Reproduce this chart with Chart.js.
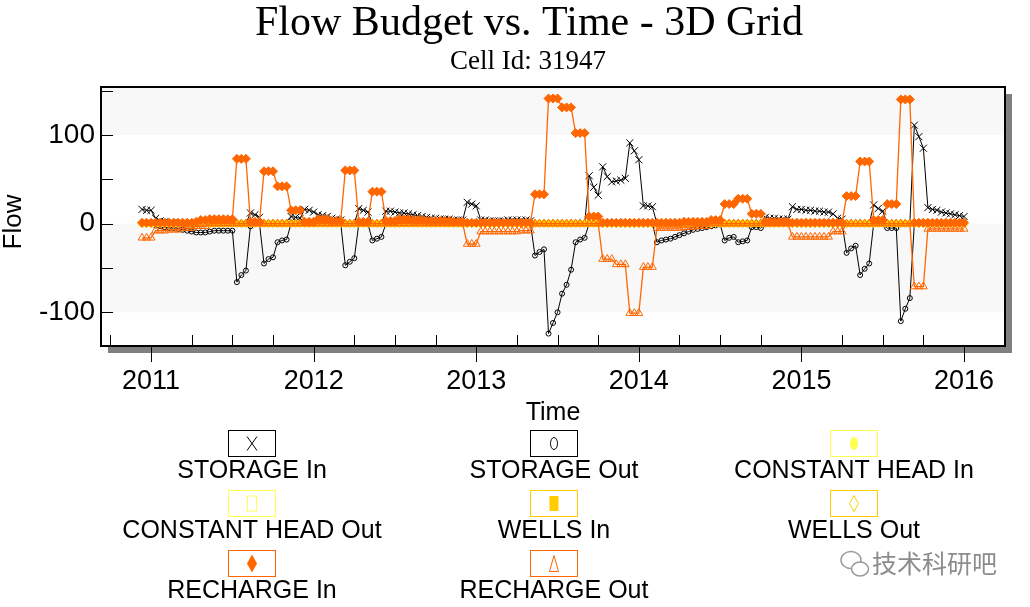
<!DOCTYPE html>
<html>
<head>
<meta charset="utf-8">
<title>Flow Budget vs. Time - 3D Grid</title>
<script src="https://cdn.jsdelivr.net/npm/chart.js@4.4.1/dist/chart.umd.min.js"></script>
<style>
  html, body { margin: 0; padding: 0; background: #fff; }
  #wrap { width: 1030px; height: 607px; }
</style>
</head>
<body>
<div id="wrap"><canvas id="chart" width="1030" height="607"></canvas></div>
<script>
// time steps: 3 per monthly stress period, Dec 2010 .. Dec 2015
var firstYear = 2010, firstMonth = 11, monthCount = 61, stepsPerMonth = 3;

// one line = Dec 2010, then one line per year (36 steps)
var storageIn = [
  16, 15, 15,
  6, 3, 2, 1, 1, 1, 0, 0, 0, 0, 0, 0, 0, 0, 0, 0, 0, 0, 0, 0, 0, 12, 10, 7, 0, 0, 0, 0, 0, 0, 8, 7, 6, 16, 15, 13,
  10, 9, 8, 6, 5, 4, 0, 0, 0, 17, 15, 13, 0, 0, 0, 14, 14, 13, 12, 12, 11, 10, 9, 8, 7, 6, 6, 5, 5, 5, 4, 4, 4, 24, 22, 20,
  4, 4, 3, 3, 3, 3, 4, 4, 4, 4, 4, 3, 0, 0, 0, 0, 0, 0, 0, 0, 0, 0, 0, 0, 54, 41, 32, 64, 53, 47, 48, 49, 51, 91, 82, 72,
  20, 20, 19, 0, 0, 0, 0, 0, 0, 0, 0, 0, 0, 0, 0, 0, 0, 0, 0, 0, 0, 0, 0, 0, 0, 0, 0, 7, 6, 6, 5, 5, 5, 19, 16, 16,
  15, 15, 14, 14, 13, 13, 11, 6, 5, 0, 0, 0, 0, 0, 0, 21, 17, 14, 0, 0, 0, 0, 0, 0, 111, 98, 85, 18, 16, 15, 13, 12, 11, 10, 9, 8
];
var storageOut = [
  0, 0, 0,
  -2, -3, -4, -5, -5, -6, -7, -8, -9, -10, -10, -10, -9, -8, -8, -8, -8, -8, -66, -58, -53, -3, 0, 0, -45, -40, -38, -21, -19, -18, 0, 0, 0, 0, 0, 0,
  0, 0, 0, 0, 0, 0, -47, -43, -39, 0, 0, 0, -19, -17, -15, 0, 0, 0, 0, 0, 0, 0, 0, 0, 0, 0, 0, 0, 0, 0, 0, 0, 0, 0, 0, 0,
  0, 0, 0, 0, 0, 0, 0, 0, 0, 0, 0, 0, -36, -32, -29, -124, -112, -100, -79, -69, -52, -21, -18, -16, 0, 0, 0, 0, 0, 0, 0, 0, 0, 0, 0, 0,
  0, 0, 0, -21, -19, -18, -17, -15, -13, -11, -9, -7, -6, -5, -4, -3, -2, -1, -19, -16, -15, -21, -20, -19, -4, -4, -5, 0, 0, 0, 0, 0, 0, 0, 0, 0,
  0, 0, 0, 0, 0, 0, 0, 0, 0, -33, -28, -25, -58, -51, -45, 0, 0, 0, -5, -5, -5, -110, -96, -84, 0, 0, 0, 0, 0, 0, 0, 0, 0, 0, 0, 0
];
var rechargeIn = [
  1, 1, 1,
  1, 1, 1, 1, 1, 1, 1, 1, 1, 2, 4, 4, 5, 5, 5, 5, 5, 5, 73, 73, 73, 2, 2, 2, 59, 59, 59, 42, 42, 42, 15, 15, 15, 2, 2, 2,
  5, 5, 5, 3, 3, 3, 60, 60, 60, 2, 2, 2, 36, 36, 36, 3, 3, 3, 5, 5, 5, 4, 4, 4, 3, 3, 3, 3, 3, 3, 2, 2, 2, 1, 1, 1,
  1, 1, 1, 1, 1, 1, 1, 1, 1, 1, 1, 1, 33, 33, 33, 141, 141, 141, 131, 131, 131, 102, 102, 102, 8, 8, 8, 1, 1, 1, 1, 1, 1, 1, 1, 1,
  1, 1, 1, 1, 1, 1, 1, 1, 1, 2, 2, 2, 2, 2, 2, 4, 4, 4, 22, 22, 22, 28, 28, 28, 11, 11, 11, 2, 2, 2, 2, 2, 2, 1, 1, 1,
  1, 1, 1, 1, 1, 1, 1, 1, 1, 31, 31, 31, 70, 70, 70, 4, 4, 4, 22, 22, 22, 140, 140, 140, 1, 1, 1, 1, 1, 1, 1, 1, 1, 1, 1, 1
];
var rechargeOut = [
  -16, -16, -16,
  -8, -8, -8, -7, -7, -7, -5, -5, -5, -3, -3, -3, 0, 0, 0, 0, 0, 0, 0, 0, 0, 0, 0, 0, 0, 0, 0, 0, 0, 0, 0, 0, 0, 0, 0, 0,
  0, 0, 0, 0, 0, 0, 0, 0, 0, 0, 0, 0, 0, 0, 0, 0, 0, 0, 0, 0, 0, 0, 0, 0, 0, 0, 0, 0, 0, 0, 0, 0, 0, -23, -23, -23,
  -9, -9, -9, -9, -9, -9, -9, -9, -9, -8, -8, -8, 0, 0, 0, 0, 0, 0, 0, 0, 0, 0, 0, 0, 0, 0, 0, -40, -40, -40, -46, -46, -46, -101, -101, -101,
  -49, -49, -49, -5, -5, -5, -5, -5, -5, -4, -4, -4, -3, -3, -3, 0, 0, 0, 0, 0, 0, 0, 0, 0, 0, 0, 0, 0, 0, 0, 0, 0, 0, -15, -15, -15,
  -15, -15, -15, -15, -15, -15, -9, -9, -9, 0, 0, 0, 0, 0, 0, 0, 0, 0, 0, 0, 0, 0, 0, 0, -71, -71, -71, -6, -6, -6, -6, -6, -6, -6, -6, -6
];
// constant head and wells stay at zero for this cell
var zeroFlow = [
  0, 0, 0,
  0, 0, 0, 0, 0, 0, 0, 0, 0, 0, 0, 0, 0, 0, 0, 0, 0, 0, 0, 0, 0, 0, 0, 0, 0, 0, 0, 0, 0, 0, 0, 0, 0, 0, 0, 0,
  0, 0, 0, 0, 0, 0, 0, 0, 0, 0, 0, 0, 0, 0, 0, 0, 0, 0, 0, 0, 0, 0, 0, 0, 0, 0, 0, 0, 0, 0, 0, 0, 0, 0, 0, 0,
  0, 0, 0, 0, 0, 0, 0, 0, 0, 0, 0, 0, 0, 0, 0, 0, 0, 0, 0, 0, 0, 0, 0, 0, 0, 0, 0, 0, 0, 0, 0, 0, 0, 0, 0, 0,
  0, 0, 0, 0, 0, 0, 0, 0, 0, 0, 0, 0, 0, 0, 0, 0, 0, 0, 0, 0, 0, 0, 0, 0, 0, 0, 0, 0, 0, 0, 0, 0, 0, 0, 0, 0,
  0, 0, 0, 0, 0, 0, 0, 0, 0, 0, 0, 0, 0, 0, 0, 0, 0, 0, 0, 0, 0, 0, 0, 0, 0, 0, 0, 0, 0, 0, 0, 0, 0, 0, 0, 0
];
var constantHeadIn = zeroFlow, constantHeadOut = zeroFlow, wellsIn = zeroFlow, wellsOut = zeroFlow;

var yearTicks = [2011, 2012, 2013, 2014, 2015, 2016];
var flowTicks = [-100, 0, 100];

var BLACK = '#000000', YELLOW = '#FFFF4D', GOLD = '#FFCC00', ORANGE = '#FF6600';
var SANS = '"Liberation Sans", Arial, sans-serif';
var SERIF = '"Liberation Serif", "Times New Roman", serif';

// decimal-year time of each step (end of each third of a month)
var times = [];
for (var m = 0; m < monthCount; m++) {
  for (var k = 1; k <= stepsPerMonth; k++) {
    times.push(firstYear + (firstMonth + m + k / stepsPerMonth) / 12);
  }
}

function pts(vals) {
  return vals.map(function (v, i) { return { x: times[i], y: v }; });
}

function series(label, vals, color, style, radius, hollow, lineWidth, order) {
  return {
    label: label,
    data: pts(vals),
    borderColor: color,
    borderWidth: lineWidth,
    pointStyle: style,
    pointRadius: radius,
    pointBorderColor: color,
    pointBackgroundColor: hollow ? 'rgba(255,255,255,0)' : color,
    pointBorderWidth: 1,
    tension: 0,
    fill: false,
    order: order
  };
}

var legendItems = [
  { label: 'STORAGE In', color: BLACK, mark: 'x' },
  { label: 'STORAGE Out', color: BLACK, mark: 'ellipse' },
  { label: 'CONSTANT HEAD In', color: YELLOW, mark: 'ellipseFill' },
  { label: 'CONSTANT HEAD Out', color: YELLOW, mark: 'rect' },
  { label: 'WELLS In', color: GOLD, mark: 'rectFill' },
  { label: 'WELLS Out', color: GOLD, mark: 'diamond' },
  { label: 'RECHARGE In', color: ORANGE, mark: 'diamondFill' },
  { label: 'RECHARGE Out', color: ORANGE, mark: 'triangle' }
];

function drawMark(ctx, mark, cx, cy, color) {
  ctx.save();
  ctx.strokeStyle = color;
  ctx.fillStyle = color;
  ctx.lineWidth = 1;
  ctx.beginPath();
  if (mark === 'x') {
    ctx.moveTo(cx - 5, cy - 7); ctx.lineTo(cx + 5, cy + 7);
    ctx.moveTo(cx + 5, cy - 7); ctx.lineTo(cx - 5, cy + 7);
    ctx.stroke();
  } else if (mark === 'ellipse' || mark === 'ellipseFill') {
    var rx = mark === 'ellipse' ? 3.5 : 4, ry = mark === 'ellipse' ? 6 : 6.5;
    ctx.ellipse(cx, cy, rx, ry, 0, 0, Math.PI * 2);
    if (mark === 'ellipseFill') ctx.fill(); else ctx.stroke();
  } else if (mark === 'rect' || mark === 'rectFill') {
    ctx.rect(cx - 4.5, cy - 7.5, 9, 15);
    if (mark === 'rectFill') ctx.fill(); else ctx.stroke();
  } else if (mark === 'diamond' || mark === 'diamondFill') {
    var hw = mark === 'diamond' ? 4.5 : 5, hh = mark === 'diamond' ? 8 : 9;
    ctx.moveTo(cx, cy - hh); ctx.lineTo(cx + hw, cy); ctx.lineTo(cx, cy + hh); ctx.lineTo(cx - hw, cy);
    ctx.closePath();
    if (mark === 'diamondFill') ctx.fill(); else ctx.stroke();
  } else if (mark === 'triangle') {
    ctx.moveTo(cx, cy - 8); ctx.lineTo(cx + 4.5, cy + 8); ctx.lineTo(cx - 4.5, cy + 8);
    ctx.closePath();
    ctx.stroke();
  }
  ctx.restore();
}

var framePlugin = {
  id: 'frame',
  beforeDraw: function (chart) {
    var ctx = chart.ctx, a = chart.chartArea, y = chart.scales.y;
    var w = a.right - a.left, h = a.bottom - a.top;
    ctx.save();
    ctx.fillStyle = '#ffffff';
    ctx.fillRect(0, 0, chart.width, chart.height);
    // drop shadow
    ctx.fillStyle = '#808080';
    ctx.fillRect(a.left + 7, a.top + 7, w, h);
    ctx.fillStyle = '#ffffff';
    ctx.fillRect(a.left, a.top, w, h);
    // alternating bands
    ctx.fillStyle = '#F8F8F8';
    [[100, y.max], [-100, 0]].forEach(function (b) {
      var p1 = y.getPixelForValue(b[1]), p0 = y.getPixelForValue(b[0]);
      ctx.fillRect(a.left, p1, w, p0 - p1);
    });
    ctx.restore();
  },
  afterDatasetsDraw: function (chart) {
    var ctx = chart.ctx, a = chart.chartArea, x = chart.scales.x, y = chart.scales.y;
    ctx.save();
    ctx.strokeStyle = '#000';
    ctx.lineWidth = 1;
    ctx.beginPath();
    for (var v = -100; v <= 150; v += 50) {
      var py = Math.round(y.getPixelForValue(v)) + 0.5;
      ctx.moveTo(a.left, py); ctx.lineTo(a.left + 12, py);
    }
    for (var q = 2010.75; q <= 2016.01; q += 0.25) {
      var px = Math.round(x.getPixelForValue(q)) + 0.5;
      if (Math.abs(q - Math.round(q)) < 0.01) {
        ctx.moveTo(px, a.bottom); ctx.lineTo(px, a.bottom + 16);
      } else {
        ctx.moveTo(px, a.bottom - 11); ctx.lineTo(px, a.bottom);
      }
    }
    ctx.stroke();
    ctx.lineWidth = 2;
    ctx.strokeRect(a.left, a.top, a.right - a.left, a.bottom - a.top);
    ctx.restore();
  },
  afterDraw: function (chart) {
    var ctx = chart.ctx;
    ctx.save();
    // titles
    ctx.fillStyle = '#000';
    ctx.textAlign = 'center';
    ctx.textBaseline = 'middle';
    ctx.font = '42px ' + SERIF;
    ctx.fillText('Flow Budget vs. Time - 3D Grid', 529, 24);
    ctx.font = '27px ' + SERIF;
    ctx.fillText('Cell Id: 31947', 528, 62);
    // y axis title
    ctx.save();
    ctx.translate(14, 222);
    ctx.rotate(-Math.PI / 2);
    ctx.font = '26px ' + SANS;
    ctx.fillText('Flow', 0, 0);
    ctx.restore();
    // legend, 3 columns
    var colX = [228, 530, 830], rowY = [430, 490, 550];
    legendItems.forEach(function (it, i) {
      var bx = colX[i % 3], by = rowY[Math.floor(i / 3)];
      ctx.fillStyle = '#ffffff';
      ctx.fillRect(bx, by, 47, 26);
      ctx.strokeStyle = it.color;
      ctx.lineWidth = 1;
      ctx.strokeRect(bx + 0.5, by + 0.5, 47, 26);
      drawMark(ctx, it.mark, bx + 24, by + 13.5, it.color);
      ctx.fillStyle = '#000';
      ctx.font = '25px ' + SANS;
      ctx.textAlign = 'center';
      ctx.textBaseline = 'middle';
      ctx.fillText(it.label, bx + 24, by + 41);
    });
    // watermark
    ctx.strokeStyle = '#9a9a9a';
    ctx.lineWidth = 1.5;
    ctx.beginPath();
    ctx.ellipse(851, 560, 10, 8.5, 0, 0, Math.PI * 2);
    ctx.stroke();
    ctx.beginPath();
    ctx.ellipse(860, 569, 8.5, 7, 0, 0, Math.PI * 2);
    ctx.fillStyle = '#ffffff';
    ctx.fill();
    ctx.stroke();
    ctx.fillStyle = '#8c8c8c';
    ctx.font = '25px "Noto Sans CJK SC", sans-serif';
    ctx.textAlign = 'left';
    ctx.fillText('技术科研吧', 872, 563);
    ctx.restore();
  }
};

var ctx = document.getElementById('chart');
new Chart(ctx, {
  type: 'line',
  data: {
    datasets: [
      series('STORAGE In', storageIn, BLACK, 'crossRot', 5, false, 1, 6),
      series('STORAGE Out', storageOut, BLACK, 'circle', 2.5, true, 1, 7),
      series('CONSTANT HEAD In', constantHeadIn, YELLOW, 'circle', 3, false, 1, 5),
      series('CONSTANT HEAD Out', constantHeadOut, YELLOW, 'rect', 4, true, 1, 4),
      series('WELLS In', wellsIn, GOLD, 'rect', 3, false, 1, 3),
      series('WELLS Out', wellsOut, GOLD, 'rectRot', 4, true, 1, 2),
      series('RECHARGE In', rechargeIn, ORANGE, 'rectRot', 4.5, false, 1.3, 0),
      series('RECHARGE Out', rechargeOut, ORANGE, 'triangle', 4.5, true, 1.3, 1)
    ]
  },
  options: {
    responsive: false,
    animation: false,
    devicePixelRatio: 1,
    layout: { padding: { left: 0, right: 25, top: 87, bottom: 0 } },
    plugins: {
      legend: { display: false },
      tooltip: { enabled: false },
      title: { display: false },
      subtitle: { display: false }
    },
    scales: {
      x: {
        type: 'linear',
        min: 2010.692,
        max: 2016.252,
        grid: { display: false, drawTicks: false },
        border: { display: false },
        ticks: {
          color: '#000',
          font: { family: SANS, size: 27 },
          padding: 19,
          maxRotation: 0,
          autoSkip: false,
          callback: function (v) { return String(v); }
        },
        afterBuildTicks: function (s) { s.ticks = yearTicks.map(function (v) { return { value: v }; }); },
        afterFit: function (s) { s.height = 261; },
        title: {
          display: true,
          text: 'Time',
          color: '#000',
          font: { family: SANS, size: 25, lineHeight: 1.2 },
          padding: { top: 0, bottom: 179 }
        }
      },
      y: {
        min: -138,
        max: 154,
        grid: { display: false, drawTicks: false },
        border: { display: false },
        ticks: {
          color: '#000',
          font: { family: SANS, size: 28 },
          padding: 6,
          callback: function (v) { return String(v); }
        },
        afterBuildTicks: function (s) { s.ticks = flowTicks.map(function (v) { return { value: v }; }); },
        afterFit: function (s) { s.width = 101; },
        title: { display: false }
      }
    }
  },
  plugins: [framePlugin]
});
</script>
</body>
</html>
